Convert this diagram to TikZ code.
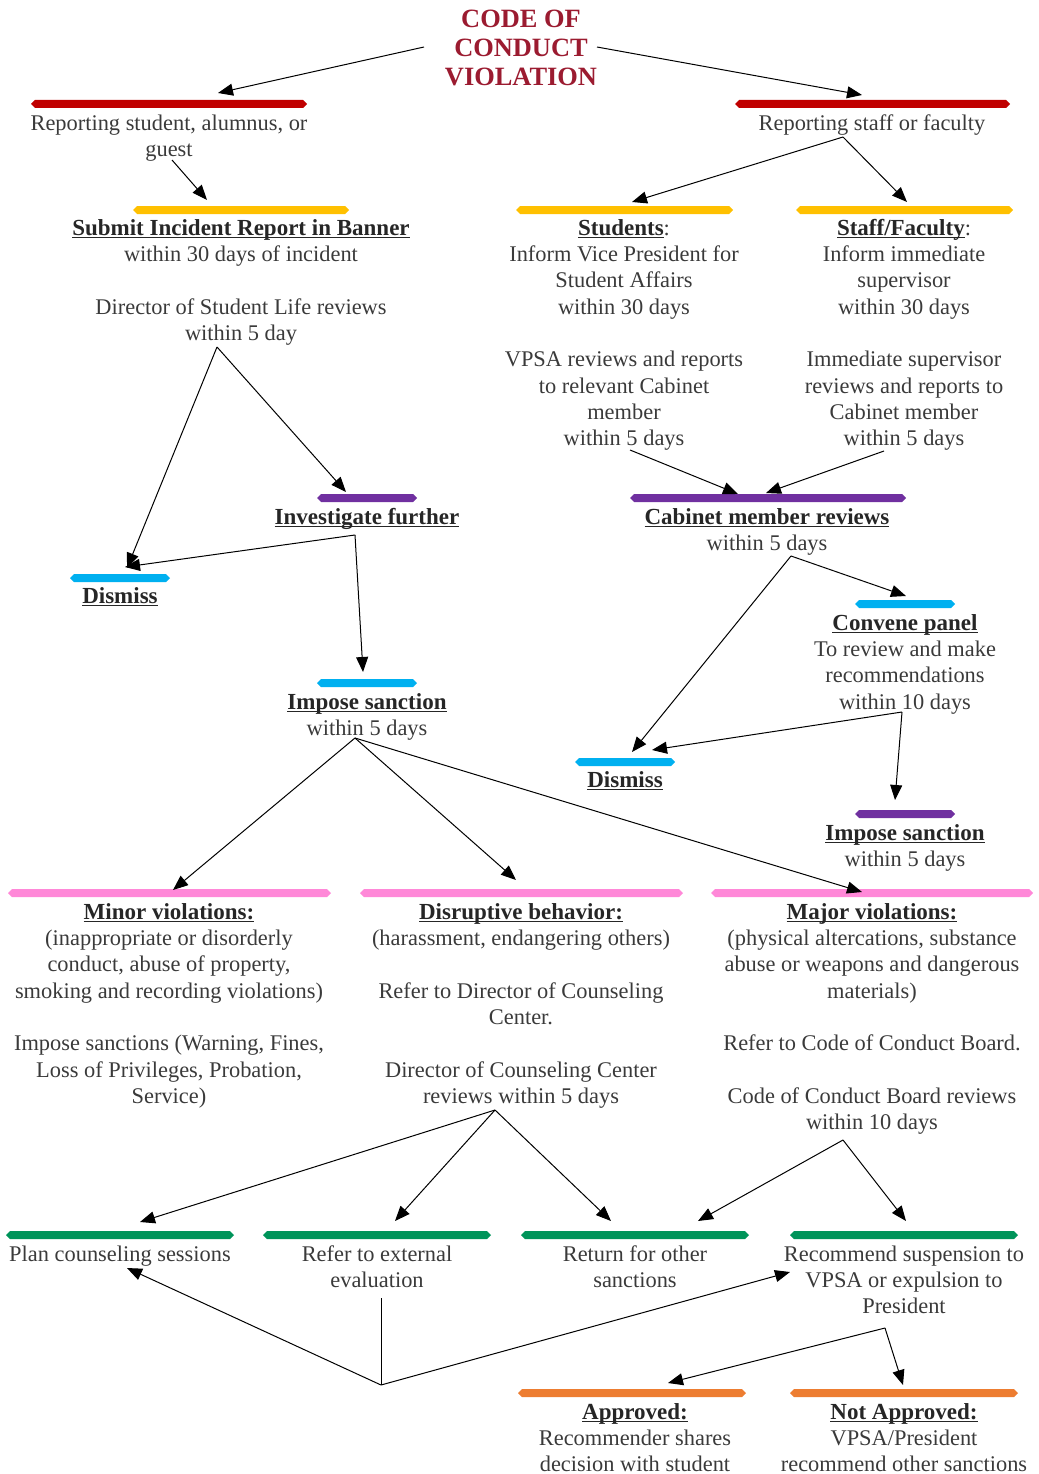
\documentclass[tikz,border=0pt]{standalone}
\usepackage{fontspec}
\setmainfont{Liberation Serif}
\usetikzlibrary{arrows.meta}
\definecolor{ttl}{HTML}{9B1B30}
\definecolor{txt}{HTML}{3A3A3A}
\definecolor{hdc}{HTML}{262626}
\definecolor{cred}{HTML}{C00000}
\definecolor{cgold}{HTML}{FFC000}
\definecolor{cpur}{HTML}{7030A0}
\definecolor{ccyan}{HTML}{00B0F0}
\definecolor{cpink}{HTML}{FF88D8}
\definecolor{cgreen}{HTML}{00945A}
\definecolor{corange}{HTML}{ED7D31}
\newsavebox\hdbox
\newcommand\hd[1]{\sbox\hdbox{\color{hdc}\fontsize{23}{26.3}\selectfont\bfseries #1}{\color{hdc}\rlap{\rule[-2.6pt]{\wd\hdbox}{1.2pt}}}\usebox\hdbox}
\newcommand\st{\rule{0pt}{16pt}}
\newcommand\cbar[4]{\fill[#1] (#2,#4) -- (#2+4,#4-4) -- (#3-4,#4-4) -- (#3,#4) -- (#3-4,#4+4) -- (#2+4,#4+4) -- cycle;}
\tikzset{
  tx/.style={align=center, inner sep=0pt, anchor=north, text=txt, font=\fontsize{22.4}{26.3}\selectfont},
  conn/.style={draw=black, line width=1pt, -{Triangle[length=15pt,width=12pt]}},
  plainconn/.style={draw=black, line width=1pt}
}
\begin{document}
\begin{tikzpicture}[x=1pt,y=-1pt]
\useasboundingbox (0,0) rectangle (1038,1474);
% bars
\cbar{cred}{31}{307}{104}
\cbar{cred}{735}{1010}{104}
\cbar{cgold}{133}{349}{210}
\cbar{cgold}{516}{733}{210}
\cbar{cgold}{796}{1013}{210}
\cbar{cpur}{317}{417}{498}
\cbar{cpur}{630}{906}{498}
\cbar{ccyan}{70}{170}{578}
\cbar{ccyan}{317}{417}{683}
\cbar{ccyan}{855}{955}{604}
\cbar{ccyan}{575}{675}{762}
\cbar{cpur}{855}{955}{814}
\cbar{cpink}{8}{331}{893}
\cbar{cpink}{360}{683}{893}
\cbar{cpink}{711}{1033}{893}
\cbar{cgreen}{6}{234}{1235}
\cbar{cgreen}{263}{491}{1235}
\cbar{cgreen}{521}{749}{1235}
\cbar{cgreen}{790}{1018}{1235}
\cbar{corange}{518}{746}{1393}
\cbar{corange}{790}{1018}{1393}
% texts
\node[align=center, inner sep=0pt, anchor=north, text=ttl, font=\fontsize{26.4}{29}\selectfont\bfseries] (title) at (521,9.5) {\rule{0pt}{18pt}CODE OF\\CONDUCT\\VIOLATION};
\begin{scope}[yshift=-3pt]
\node[tx] (rs) at (169,111) {\st Reporting student, alumnus, or\\guest};
\node[tx] (rf) at (872,111) {\st Reporting staff or faculty};
\node[tx] (sub) at (241,216) {\st\hd{Submit Incident Report in Banner}\\within 30 days of incident\\\mbox{}\\Director of Student Life reviews\\within 5 day};
\node[tx] (stu) at (624,216) {\st\hd{Students}:\\Inform Vice President for\\Student Affairs\\within 30 days\\\mbox{}\\VPSA reviews and reports\\to relevant Cabinet\\member\\within 5 days};
\node[tx] (stf) at (904,216) {\st\hd{Staff/Faculty}:\\Inform immediate\\supervisor\\within 30 days\\\mbox{}\\Immediate supervisor\\reviews and reports to\\Cabinet member\\within 5 days};
\node[tx] (inv) at (367,505) {\st\hd{Investigate further}};
\node[tx] (dis1) at (120,584) {\st\hd{Dismiss}};
\node[tx] (imp1) at (367,690) {\st\hd{Impose sanction}\\within 5 days};
\node[tx] (cab) at (767,505) {\st\hd{Cabinet member reviews}\\within 5 days};
\node[tx] (con) at (905,611) {\st\hd{Convene panel}\\To review and make\\recommendations\\within 10 days};
\node[tx] (dis2) at (625,768) {\st\hd{Dismiss}};
\node[tx] (imp2) at (905,821) {\st\hd{Impose sanction}\\within 5 days};
\node[tx] (minor) at (169,900) {\st\hd{Minor violations:}\\(inappropriate or disorderly\\conduct, abuse of property,\\smoking and recording violations)\\\mbox{}\\Impose sanctions (Warning, Fines,\\Loss of Privileges, Probation,\\Service)};
\node[tx] (disr) at (521,900) {\st\hd{Disruptive behavior:}\\(harassment, endangering others)\\\mbox{}\\Refer to Director of Counseling\\Center.\\\mbox{}\\Director of Counseling Center\\reviews within 5 days};
\node[tx] (major) at (872,900) {\st\hd{Major violations:}\\(physical altercations, substance\\abuse or weapons and dangerous\\materials)\\\mbox{}\\Refer to Code of Conduct Board.\\\mbox{}\\Code of Conduct Board reviews\\within 10 days};
\node[tx] (plan) at (120,1242) {\st Plan counseling sessions};
\node[tx] (ext) at (377,1242) {\st Refer to external\\evaluation};
\node[tx] (ret) at (635,1242) {\st Return for other\\sanctions};
\node[tx] (rec) at (904,1242) {\st Recommend suspension to\\VPSA or expulsion to\\President};
\node[tx] (app) at (635,1400) {\st\hd{Approved:}\\Recommender shares\\decision with student};
\node[tx] (napp) at (904,1400) {\st\hd{Not Approved:}\\VPSA/President\\recommend other sanctions};
\end{scope}
% connector coordinates
\coordinate (tL) at (424,47); \coordinate (tR) at (597,47);
\coordinate (rsT) at (218,93); \coordinate (rfT) at (862,95);
\coordinate (rsB) at (172,160); \coordinate (subT) at (207,200);
\coordinate (subB) at (217,347);
\coordinate (dis1T) at (127,568); \coordinate (dis1Tb) at (125,567);
\coordinate (invT) at (346,492); \coordinate (invB) at (355,535);
\coordinate (imp1T) at (363,672); \coordinate (imp1B) at (355,738);
\coordinate (minorT) at (173,890); \coordinate (disrT) at (516,880); \coordinate (majorT) at (862,892);
\coordinate (rfB) at (843,137); \coordinate (stuT) at (632,202); \coordinate (stfT) at (907,202);
\coordinate (stuB) at (630,450); \coordinate (stfB) at (884,451);
\coordinate (cabTa) at (738,494); \coordinate (cabTb) at (766,493);
\coordinate (cabB) at (791,556); \coordinate (dis2Ta) at (632,752); \coordinate (conT) at (906,596);
\coordinate (conB) at (902,712); \coordinate (dis2Tb) at (652,750); \coordinate (imp2T) at (895,800);
\coordinate (disrB) at (495,1110); \coordinate (planT) at (140,1222); \coordinate (extT) at (395,1221); \coordinate (retTa) at (611,1221);
\coordinate (majorB) at (843,1140); \coordinate (retTb) at (698,1221); \coordinate (recT) at (906,1221);
\coordinate (extB) at (381,1298); \coordinate (jn) at (381,1385);
\coordinate (planB) at (127,1268); \coordinate (recL) at (790,1272);
\coordinate (recB) at (885,1328); \coordinate (appT) at (668,1383); \coordinate (nappT) at (903,1385);
% connectors
\draw[conn] (tL) -- (rsT);
\draw[conn] (tR) -- (rfT);
\draw[conn] (rsB) -- (subT);
\draw[conn] (subB) -- (dis1T);
\draw[conn] (subB) -- (invT);
\draw[conn] (invB) -- (dis1Tb);
\draw[conn] (invB) -- (imp1T);
\draw[conn] (imp1B) -- (minorT);
\draw[conn] (imp1B) -- (disrT);
\draw[conn] (imp1B) -- (majorT);
\draw[conn] (rfB) -- (stuT);
\draw[conn] (rfB) -- (stfT);
\draw[conn] (stuB) -- (cabTa);
\draw[conn] (stfB) -- (cabTb);
\draw[conn] (cabB) -- (dis2Ta);
\draw[conn] (cabB) -- (conT);
\draw[conn] (conB) -- (dis2Tb);
\draw[conn] (conB) -- (imp2T);
\draw[conn] (disrB) -- (planT);
\draw[conn] (disrB) -- (extT);
\draw[conn] (disrB) -- (retTa);
\draw[conn] (majorB) -- (retTb);
\draw[conn] (majorB) -- (recT);
\draw[plainconn] (extB) -- (jn);
\draw[conn] (jn) -- (planB);
\draw[conn] (jn) -- (recL);
\draw[conn] (recB) -- (appT);
\draw[conn] (recB) -- (nappT);
\end{tikzpicture}
\end{document}
